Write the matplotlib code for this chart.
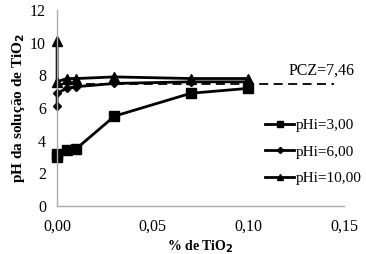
import matplotlib
matplotlib.use("Agg")
from matplotlib import pyplot as plt

plt.rcParams['font.family'] = ['Liberation Serif', 'DejaVu Serif']

# data
x3 = [0.0, 0.0, 0.005, 0.01, 0.03, 0.07, 0.10]
y3 = [3.0, 3.2, 3.4, 3.5, 5.5, 6.9, 7.2]
x6 = [0.0, 0.0, 0.005, 0.01, 0.03, 0.07, 0.10]
y6 = [6.1, 6.9, 7.2, 7.3, 7.5, 7.6, 7.6]
x10 = [0.0, 0.0, 0.005, 0.01, 0.03, 0.07, 0.10]
y10 = [10.1, 7.6, 7.8, 7.8, 7.9, 7.8, 7.8]
pcz = 7.46
xticks = [0.0, 0.05, 0.10, 0.15]
xlabels = ['0,00', '0,05', '0,10', '0,15']
yticks = [0, 2, 4, 6, 8, 10, 12]

fig = plt.figure(figsize=(3.66, 2.54), dpi=100)
ax = fig.add_axes([0.156, 0.189, 0.784, 0.772])

l3, = ax.plot(x3, y3, color='black', lw=2, marker='s', ms=7, label='pHi=3,00', clip_on=False)
l6, = ax.plot(x6, y6, color='black', lw=2, marker='D', ms=4.5, label='pHi=6,00', clip_on=False)
l10, = ax.plot(x10, y10, color='black', lw=2, marker='^', ms=6.5, label='pHi=10,00', clip_on=False)
ax.plot([0, 0.145], [pcz, pcz], color='black', lw=1.3, ls=(0, (5, 3)))
ax.text(0.121, pcz + 0.55, 'PCZ=7,46', fontsize=11.5)

ax.set_xlim(0, 0.15)
ax.set_ylim(0, 12)
ax.set_xticks(xticks)
ax.set_xticklabels(xlabels)
ax.set_yticks(yticks)
ax.tick_params(axis='x', length=0, labelsize=11.5, pad=9)
ax.tick_params(axis='y', length=0, labelsize=11.5, pad=8)
for s in ['top', 'right']:
    ax.spines[s].set_visible(False)
for s in ['left', 'bottom']:
    ax.spines[s].set_color('#aaaaaa')
    ax.spines[s].set_linewidth(1.0)

ax.set_xlabel('% de TiO$_\\mathbf{2}$', fontsize=10, fontweight='bold', labelpad=3)
ax.set_ylabel('pH da solução de TiO$_\\mathbf{2}$', fontsize=11, fontweight='bold', labelpad=2)

ax.legend(handles=[l3, l6, l10], loc='center left', bbox_to_anchor=(0.698, 0.276),
          frameon=False, fontsize=11, handlelength=1.9, handletextpad=0.1,
          labelspacing=0.85, borderpad=0, markerscale=0.7)

fig.savefig('out.png', dpi=100)
